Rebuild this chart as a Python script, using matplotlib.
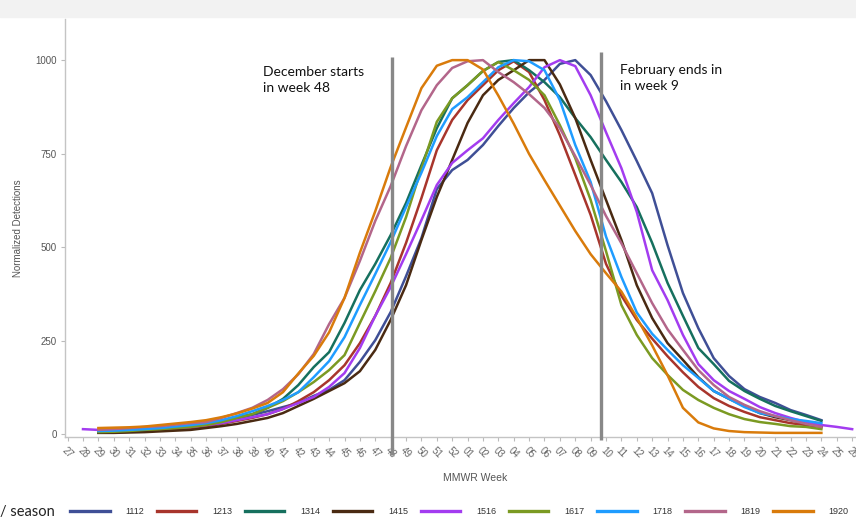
import numpy as np
import matplotlib
matplotlib.use("Agg")
import matplotlib.pyplot as plt
from matplotlib.patches import Rectangle

# MMWR weeks on the x axis, week 27 through week 26 of the next year
weeks = [str(w) for w in range(27, 53)] + ["%02d" % w for w in range(1, 27)]

# normalized detections per season, weeks 29..24 (purple 1516 runs 28..26)
s1112 = [4, 5, 6, 8, 10, 13, 16, 21, 29, 40, 51, 61, 72, 83, 102, 118, 144, 193,
         251, 326, 422, 524, 655, 706, 733, 773, 824, 872, 914, 947, 990, 1000,
         960, 890, 813, 730, 644, 505, 377, 283, 203, 155, 120, 99, 83, 64, 51, 37]
s1213 = [5, 5, 6, 8, 10, 13, 16, 21, 27, 35, 43, 53, 67, 88, 112, 144, 184, 243,
         316, 404, 511, 631, 759, 840, 893, 933, 973, 997, 968, 893, 799, 693,
         586, 455, 370, 305, 255, 208, 165, 126, 96, 75, 59, 45, 37, 29, 24, 19]
s1314 = [5, 6, 8, 11, 14, 17, 21, 27, 35, 45, 53, 70, 94, 131, 179, 219, 297, 385,
         455, 532, 618, 719, 818, 898, 933, 971, 995, 1000, 973, 941, 901, 845,
         794, 733, 674, 607, 511, 404, 316, 230, 187, 142, 115, 94, 75, 61, 48, 35]
s1415 = [3, 3, 4, 5, 7, 9, 11, 16, 21, 27, 35, 43, 56, 75, 94, 115, 136, 168,
         225, 305, 398, 519, 634, 733, 832, 906, 947, 973, 1000, 1000, 935, 845,
         733, 626, 519, 398, 310, 243, 198, 152, 115, 94, 75, 56, 45, 37, 29, 21]
s1516 = [13, 11, 11, 12, 13, 15, 17, 19, 24, 29, 37, 45, 53, 67, 83, 99, 126, 163,
         230, 316, 393, 481, 572, 666, 725, 759, 791, 840, 885, 928, 981, 1000,
         984, 906, 807, 711, 594, 438, 358, 265, 187, 144, 115, 94, 72, 56, 43,
         32, 24, 19, 13]
s1617 = [5, 6, 8, 11, 13, 16, 19, 24, 32, 43, 53, 70, 88, 112, 139, 171, 211, 297,
         382, 471, 580, 710, 835, 898, 933, 971, 995, 973, 947, 906, 826, 738,
         626, 489, 345, 265, 203, 158, 118, 91, 70, 53, 40, 32, 27, 21, 19, 13]
s1718 = [8, 9, 11, 13, 16, 20, 24, 29, 37, 48, 61, 75, 91, 112, 152, 195, 259, 345,
         428, 513, 607, 699, 797, 869, 901, 941, 981, 1000, 997, 973, 893, 773,
         674, 528, 420, 325, 268, 225, 184, 150, 115, 94, 72, 56, 48, 40, 35, 29]
s1819 = [11, 13, 16, 19, 21, 25, 29, 32, 43, 56, 70, 91, 120, 160, 214, 294, 364,
         463, 570, 663, 770, 866, 933, 979, 997, 1000, 968, 941, 909, 872, 818,
         743, 666, 583, 510, 430, 350, 280, 225, 171, 131, 99, 78, 61, 48, 37, 27, 19]
s1920 = [16, 17, 18, 20, 24, 28, 32, 37, 45, 55, 68, 83, 112, 162, 209, 272, 364,
         485, 596, 714, 820, 925, 985, 1000, 1000, 975, 905, 830, 749, 679, 611,
         543, 481, 430, 381, 311, 237, 157, 70, 31, 15, 8, 5, 4, 3, 3, 3, 3]

seasons = ["1112", "1213", "1314", "1415", "1516", "1617", "1718", "1819", "1920"]
series = [s1112, s1213, s1314, s1415, s1516, s1617, s1718, s1819, s1920]
starts = [2, 2, 2, 2, 1, 2, 2, 2, 2]
colors = ["#3f4f96", "#a8352c", "#16705e", "#4a2a12", "#a33cf0",
          "#7b9a22", "#1f9cff", "#b3668a", "#d97b0b"]

fig = plt.figure(figsize=(8.56, 5.27), dpi=100)
fig.patches.append(Rectangle((0, 1 - 17 / 527), 1, 17 / 527, transform=fig.transFigure,
                             color="#f2f2f2", zorder=0))
ax = fig.add_axes([65 / 856, 1 - 437 / 527, 1 - 65 / 856, (437 - 19) / 527])

lines = []
for name, vals, st, c in zip(seasons, series, starts, colors):
    x = np.arange(st, st + len(vals))
    ln, = ax.plot(x, vals, color=c, lw=1.8, label=name, solid_joinstyle="round")
    lines.append(ln)

ax.set_xlim(-0.17, 51.25)
ax.set_ylim(-8, 1110)
ax.set_xticks(np.arange(len(weeks)))
ax.set_xticklabels(weeks, rotation=-45, ha="center", va="top",
                   fontsize=7, color="#666666", family="Liberation Sans")
ax.set_yticks([0, 250, 500, 750, 1000])
ax.set_yticklabels(["0", "250", "500", "750", "1000"], fontsize=7,
                   color="#555555", family="Liberation Sans")
ax.tick_params(axis="both", length=3, color="#bbbbbb", pad=3)
for sp in ["top", "right"]:
    ax.spines[sp].set_visible(False)
for sp in ["left", "bottom"]:
    ax.spines[sp].set_color("#c4c4c4")
    ax.spines[sp].set_linewidth(1)

ax.set_xlabel("MMWR Week", fontsize=7.5, color="#555555", family="Liberation Sans", labelpad=8)
ax.xaxis.set_label_coords(0.518, -0.085)
ax.set_ylabel("Normalized Detections", fontsize=7, color="#555555",
              family="Liberation Sans", labelpad=9)

# hand-drawn markers for December start and February end
ax.vlines([21.06], -56, 1008, color="#888888", lw=2.4, clip_on=False, zorder=5)
ax.vlines([34.7], -16, 1021, color="#888888", lw=2.4, clip_on=False, zorder=5)
fig.text(263 / 856, 1 - 66 / 527, "December starts\nin week 48", fontsize=10,
         family="Lato", color="#111111", va="top", linespacing=1.35)
fig.text(620 / 856, 1 - 64 / 527, "February ends in\nin week 9", fontsize=10,
         family="Lato", color="#111111", va="top", linespacing=1.35)

fig.text(0.0, 1 - 512 / 527, "/ season", fontsize=10.5, family="Lato",
         color="#222222", va="center", ha="left")
leg = fig.legend(handles=lines, labels=seasons, ncol=9, loc="center left",
                 bbox_to_anchor=(70 / 856, 1 - 512 / 527), frameon=False,
                 prop={"family": "Liberation Sans", "size": 6.5},
                 handlelength=4.4, handletextpad=1.75,
                 columnspacing=1.38, borderpad=0, borderaxespad=0)
for h in leg.legend_handles:
    h.set_linewidth(2.4)
for t in leg.get_texts():
    t.set_color("#333333")

fig.savefig("out.png", dpi=100)
